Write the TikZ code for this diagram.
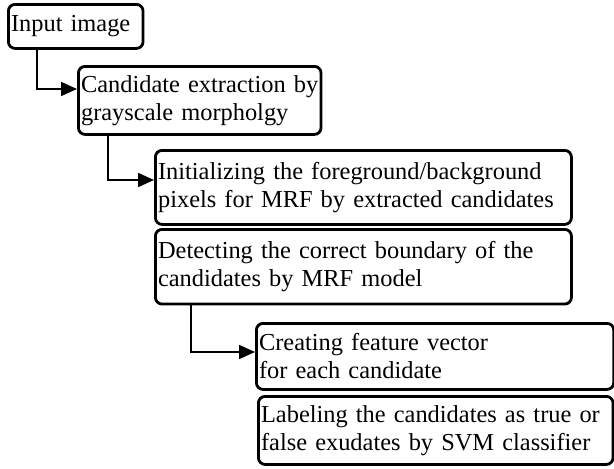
\documentclass[tikz,border=0pt]{standalone}
\usepackage{fontspec}
\setmainfont{Liberation Serif}
\usetikzlibrary{
		positioning,
		arrows.meta
	}
\tikzset{
		>={Triangle[length=12pt,width=10.5pt]},
		stage/.style={draw, line width=2.1pt, rounded corners=5pt, anchor=north west, align=left,
			inner xsep=2pt, inner ysep=2pt, font=\fontsize{18.3}{21}\selectfont},
		flow/.style={black, line width=1.3pt, ->}
	}
\begin{document}
\begin{tikzpicture}[x=0.75pt,y=-0.75pt]
		\useasboundingbox (0,0) rectangle (614,468);
		% Boxes
		\node[stage, text width=97pt, minimum height=33pt] (input) at (7,3) {Input image};
		\node[stage, text width=178pt, minimum height=51pt] (cand) at (77,65) {Candidate extraction by\\grayscale morpholgy};
		\node[stage, text width=308pt, minimum height=55.5pt] (init) at (154,149) {Initializing the foreground/background\\pixels for MRF by extracted candidates};
		\node[stage, text width=308pt, minimum height=56pt] (detect) at (154,228) {Detecting the correct boundary of the\\candidates by MRF model};
		\node[stage, text width=264pt, minimum height=49.5pt] (feat) at (255,322) {Creating feature vector\\for each candidate};
		\node[stage, text width=262pt, minimum height=51pt] (label) at (257,395) {Labeling the candidates as true or\\false exudates by SVM classifier};
		% Arrows
		\draw[flow] (input.south -| 37,0) |- (cand.west |- 0,89);
		\draw[flow] (cand.south -| 108,0) |- (init.west |- 0,180);
		\draw[flow] (detect.south -| 191,0) |- (feat.west |- 0,352);
	\end{tikzpicture}
\end{document}
